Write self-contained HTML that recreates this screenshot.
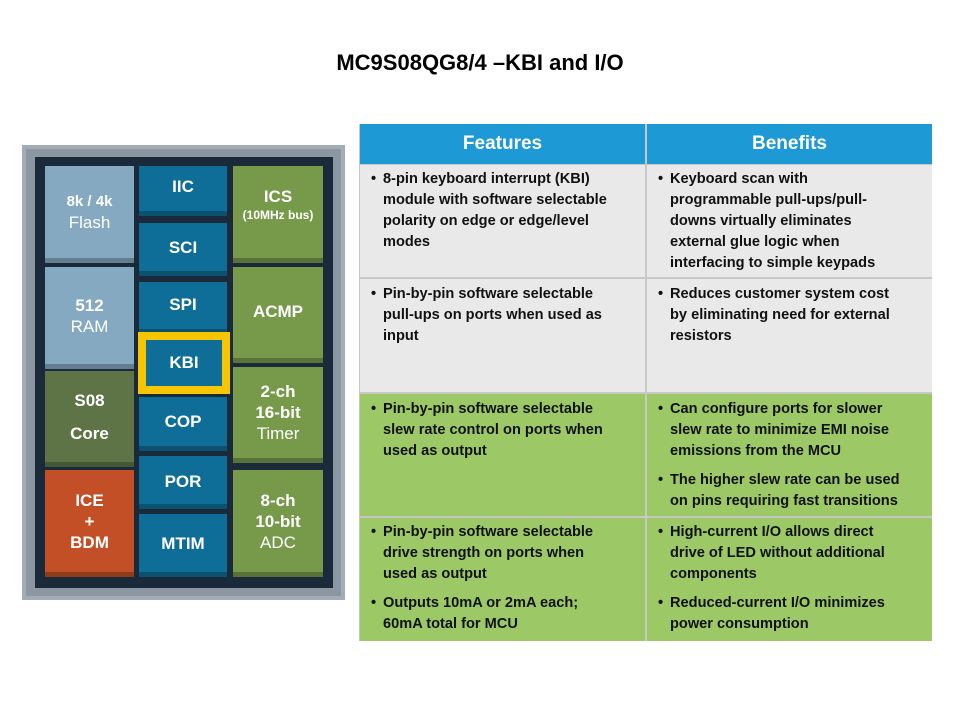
<!DOCTYPE html>
<html><head><meta charset="utf-8"><style>
*{margin:0;padding:0;box-sizing:border-box}
body{width:960px;height:720px;background:#fff;position:relative;font-family:"Liberation Sans",Arial,sans-serif;overflow:hidden}
.a{position:absolute}
.title{left:0;width:960px;top:50px;text-align:center;font-weight:bold;font-size:22px;color:#000}
.blk{position:absolute;color:#fff;text-align:center;font-weight:bold;display:flex;flex-direction:column;justify-content:center;align-items:center;font-size:17px;line-height:21px;border-bottom:5px solid rgba(0,0,0,0.25)}
.n{font-weight:normal}
.blue{background:#0f6e97}
.lb{background:#85a9c0}
.gr{background:#77994a}
.dg{background:#5e7447}
.or{background:#c24f25}
.cell{position:absolute;font-size:14.6px;font-weight:bold;line-height:21px;color:#111;padding:5px 0 0 24px;white-space:nowrap}
.cell p{position:relative;margin-bottom:8px}
.cell p:before{content:"•";position:absolute;left:-12px}
</style></head><body>
<div class="a title">MC9S08QG8/4 –KBI and I/O</div>

<div class="a" style="left:22px;top:145px;width:323px;height:455px;background:#a3acb6"></div>
<div class="a" style="left:26px;top:149px;width:315px;height:447px;background:#8d97a2"></div>
<div class="a" style="left:35px;top:157px;width:298px;height:431px;background:#1b2a3a"></div>

<div class="blk lb" style="left:45px;top:166px;width:89px;height:97px;font-size:15px">8k / 4k<span class="n" style="font-size:17px">Flash</span></div>
<div class="blk lb" style="left:45px;top:267px;width:89px;height:102px">512<span class="n">RAM</span></div>
<div class="blk dg" style="left:45px;top:371px;width:89px;height:96px;line-height:33px">S08<span>Core</span></div>
<div class="blk or" style="left:45px;top:470px;width:89px;height:107px">ICE<span>+</span><span>BDM</span></div>

<div class="blk blue" style="left:139px;top:166px;width:88px;height:50px;justify-content:flex-start;padding-top:10px">IIC</div>
<div class="blk blue" style="left:139px;top:223px;width:88px;height:53px">SCI</div>
<div class="blk blue" style="left:139px;top:282px;width:88px;height:52px;justify-content:flex-start;padding-top:12px">SPI</div>
<div class="a" style="left:138px;top:332px;width:92px;height:62px;background:#f7c600"></div>
<div class="a" style="left:146px;top:340px;width:76px;height:46px;background:#0f6e97;color:#fff;font-weight:bold;font-size:17px;text-align:center;line-height:46px">KBI</div>
<div class="blk blue" style="left:139px;top:397px;width:88px;height:54px">COP</div>
<div class="blk blue" style="left:139px;top:456px;width:88px;height:53px;justify-content:flex-start;padding-top:15px">POR</div>
<div class="blk blue" style="left:139px;top:514px;width:88px;height:63px">MTIM</div>

<div class="blk gr" style="left:233px;top:166px;width:90px;height:97px;justify-content:flex-start;padding-top:20px">ICS<span style="font-size:12px;line-height:16px">(10MHz bus)</span></div>
<div class="blk gr" style="left:233px;top:267px;width:90px;height:96px;justify-content:flex-start;padding-top:34px">ACMP</div>
<div class="blk gr" style="left:233px;top:367px;width:90px;height:96px">2-ch<span>16-bit</span><span class="n">Timer</span></div>
<div class="blk gr" style="left:233px;top:470px;width:90px;height:107px">8-ch<span>10-bit</span><span class="n">ADC</span></div>

<!-- table -->
<div class="a" style="left:359px;top:124px;width:573px;height:517px;background:#c8c8c8"></div>
<div class="a" style="left:360px;top:124px;width:285px;height:40px;background:#1d9ad6;color:#fff;font-weight:bold;font-size:19px;text-align:center;line-height:40px">Features</div>
<div class="a" style="left:647px;top:124px;width:285px;height:40px;background:#1d9ad6;color:#fff;font-weight:bold;font-size:19px;text-align:center;line-height:40px">Benefits</div>

<div class="a" style="left:360px;top:165px;width:285px;height:112px;background:#e9e9e9"></div>
<div class="a" style="left:647px;top:165px;width:285px;height:112px;background:#e9e9e9"></div>
<div class="a" style="left:360px;top:279px;width:285px;height:113px;background:#e9e9e9"></div>
<div class="a" style="left:647px;top:279px;width:285px;height:113px;background:#e9e9e9"></div>
<div class="a" style="left:360px;top:394px;width:285px;height:122px;background:#9dc866"></div>
<div class="a" style="left:647px;top:394px;width:285px;height:122px;background:#9dc866"></div>
<div class="a" style="left:360px;top:518px;width:285px;height:123px;background:#9dc866"></div>
<div class="a" style="left:647px;top:518px;width:285px;height:123px;background:#9dc866"></div>

<div class="cell" style="left:359px;top:164px"><p>8-pin keyboard interrupt (KBI)<br>module with software selectable<br>polarity on edge or edge/level<br>modes</p></div>
<div class="cell" style="left:646px;top:164px"><p>Keyboard scan with<br>programmable pull-ups/pull-<br>downs virtually eliminates<br>external glue logic when<br>interfacing to simple keypads</p></div>
<div class="cell" style="left:359px;top:279px"><p>Pin-by-pin software selectable<br>pull-ups on ports when used as<br>input</p></div>
<div class="cell" style="left:646px;top:279px"><p>Reduces customer system cost<br>by eliminating need for external<br>resistors</p></div>
<div class="cell" style="left:359px;top:394px"><p>Pin-by-pin software selectable<br>slew rate control on ports when<br>used as output</p></div>
<div class="cell" style="left:646px;top:394px"><p>Can configure ports for slower<br>slew rate to minimize EMI noise<br>emissions from the MCU</p><p>The higher slew rate can be used<br>on pins requiring fast transitions</p></div>
<div class="cell" style="left:359px;top:517px"><p>Pin-by-pin software selectable<br>drive strength on ports when<br>used as output</p><p>Outputs 10mA or 2mA each;<br>60mA total for MCU</p></div>
<div class="cell" style="left:646px;top:517px"><p>High-current I/O allows direct<br>drive of LED without additional<br>components</p><p>Reduced-current I/O minimizes<br>power consumption</p></div>
</body></html>
